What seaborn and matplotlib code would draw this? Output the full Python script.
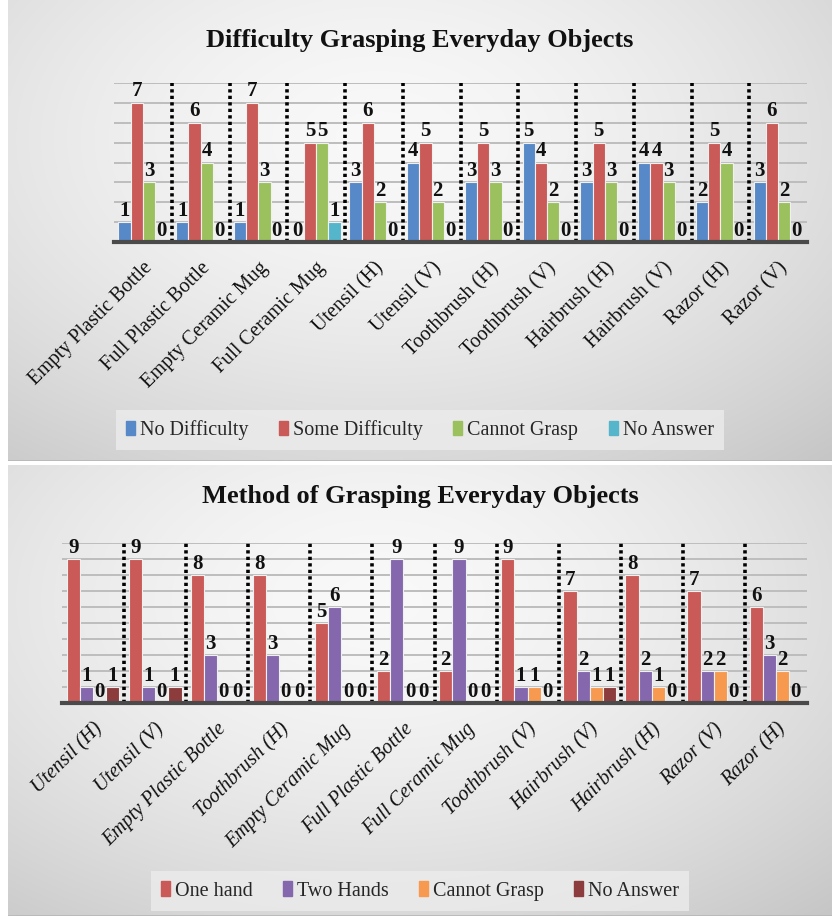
import numpy as np
import pandas as pd
import matplotlib
matplotlib.use("Agg")
import matplotlib.pyplot as plt
import matplotlib.patches as mpatches
import seaborn as sns

# ---------------- data ----------------
top_categories = ["Empty Plastic Bottle", "Full Plastic Bottle", "Empty Ceramic Mug",
                  "Full Ceramic Mug", "Utensil (H)", "Utensil (V)", "Toothbrush (H)",
                  "Toothbrush (V)", "Hairbrush (H)", "Hairbrush (V)", "Razor (H)", "Razor (V)"]
top_series = ["No Difficulty", "Some Difficulty", "Cannot Grasp", "No Answer"]
top_no_difficulty = [1, 1, 1, 0, 3, 4, 3, 5, 3, 4, 2, 3]
top_some_difficulty = [7, 6, 7, 5, 6, 5, 5, 4, 5, 4, 5, 6]
top_cannot_grasp = [3, 4, 3, 5, 2, 2, 3, 2, 3, 3, 4, 2]
top_no_answer = [0, 0, 0, 1, 0, 0, 0, 0, 0, 0, 0, 0]
top_title = "Difficulty Grasping Everyday Objects"

bot_categories = ["Utensil (H)", "Utensil (V)", "Empty Plastic Bottle", "Toothbrush (H)",
                  "Empty Ceramic Mug", "Full Plastic Bottle", "Full Ceramic Mug",
                  "Toothbrush (V)", "Hairbrush (V)", "Hairbrush (H)", "Razor (V)", "Razor (H)"]
bot_series = ["One hand", "Two Hands", "Cannot Grasp", "No Answer"]
bot_one_hand = [9, 9, 8, 8, 5, 2, 2, 9, 7, 8, 7, 6]
bot_two_hands = [1, 1, 3, 3, 6, 9, 9, 1, 2, 2, 2, 3]
bot_cannot_grasp = [0, 0, 0, 0, 0, 0, 0, 1, 1, 1, 2, 2]
bot_no_answer = [1, 1, 0, 0, 0, 0, 0, 0, 1, 0, 0, 0]
bot_title = "Method of Grasping Everyday Objects"

top_colors = ["#5788c8", "#c95a58", "#9bc15e", "#55b6cb"]
bot_colors = ["#c95a58", "#8467ad", "#f79a50", "#8c3c3c"]

# --------------- style ----------------
sns.set_theme(style="white")
plt.rcParams["font.family"] = ["Liberation Serif", "DejaVu Serif"]

W, H = 832, 919
fig = plt.figure(figsize=(W / 100, H / 100), dpi=100)
fig.patch.set_facecolor("white")


def px_rect(x0, y0, x1, y1):
    return [x0 / W, 1 - y1 / H, (x1 - x0) / W, (y1 - y0) / H]


def panel_background(rect, cx=0.45, cy=0.3):
    bg = fig.add_axes(rect, zorder=0)
    ny, nx = 200, 200
    yy, xx = np.mgrid[0:1:ny * 1j, 0:1:nx * 1j]
    r = np.sqrt(((xx - cx) / 0.75) ** 2 + ((yy - cy) / 0.85) ** 2)
    v = 0.975 - 0.17 * np.clip(r, 0, 1.3) ** 1.6
    img = np.dstack([v, v, v])
    bg.imshow(img, aspect="auto", extent=(0, 1, 1, 0), interpolation="bilinear")
    bg.set_xlim(0, 1)
    bg.set_ylim(1, 0)
    bg.axis("off")
    bg.axhline(1.0, color="#b8b8b8", lw=2)
    return bg


def draw_panel(rect, categories, series, values, colors, title, title_y,
               ymax, italic, legend_center):
    df = pd.DataFrame({
        "category": np.repeat(categories, len(series)),
        "series": series * len(categories),
        "value": np.array(values).T.reshape(-1),
    })
    ax = fig.add_axes(rect, zorder=1)
    ax.patch.set_alpha(0)
    sns.barplot(data=df, x="category", y="value", hue="series", order=categories,
                hue_order=series, palette=colors, width=0.85, errorbar=None,
                edgecolor="#f0f0f0", linewidth=0.8, saturation=1, ax=ax, zorder=3)
    ax.set_xlim(-0.5, len(categories) - 0.5)
    ax.set_ylim(0, ymax)
    ax.set_yticks(range(0, ymax + 1))
    ax.yaxis.grid(True, color="#bdbdbd", lw=1.4, zorder=0)
    ax.tick_params(axis="y", left=False, labelleft=False)
    ax.tick_params(axis="x", bottom=False, pad=6)
    for s in ["top", "right", "left"]:
        ax.spines[s].set_visible(False)
    ax.spines["bottom"].set_color("#4a4a4a")
    ax.spines["bottom"].set_linewidth(3)
    ax.spines["bottom"].set_zorder(5)
    ax.set_xlabel("")
    ax.set_ylabel("")
    ax.set_xticks(range(len(categories)))
    ax.set_xticklabels(categories, rotation=45, ha="right", rotation_mode="anchor",
                       fontsize=14.5, style="italic" if italic else "normal",
                       color="#111111")
    for b in np.arange(0.5, len(categories) - 0.5, 1.0):
        ax.axvline(b, ymin=0, ymax=1, color="black", lw=2.6, ls=(0, (0.9, 0.9)), zorder=4)
    for cont in ax.containers:
        ax.bar_label(cont, fmt="%d", padding=1, fontsize=15, fontweight="bold",
                     color="#111111", zorder=6)
    if ax.legend_ is not None:
        ax.legend_.remove()
    handles = [mpatches.Patch(color=c, label=s) for c, s in zip(colors, series)]
    leg = fig.legend(handles=handles, loc="center", bbox_to_anchor=legend_center,
                     ncol=4, frameon=True, fontsize=14.5, handlelength=0.45,
                     handleheight=0.75, handletextpad=0.25, columnspacing=1.5,
                     borderpad=0.5, fancybox=False)
    leg.get_frame().set_facecolor("#ececec")
    leg.get_frame().set_alpha(0.8)
    leg.get_frame().set_edgecolor("none")
    fig.text(legend_center[0], title_y, title, ha="center", va="center",
             fontsize=19, fontweight="bold", color="#111111")
    return ax


# panels
panel_background(px_rect(8, 0, 832, 461))
panel_background(px_rect(8, 465, 832, 916))

draw_panel(px_rect(114, 83, 807, 242), top_categories, top_series,
           [top_no_difficulty, top_some_difficulty, top_cannot_grasp, top_no_answer],
           top_colors, top_title, 1 - 40 / H, 8, False, (420 / W, 1 - 430 / H))

draw_panel(px_rect(62, 543, 807, 703), bot_categories, bot_series,
           [bot_one_hand, bot_two_hands, bot_cannot_grasp, bot_no_answer],
           bot_colors, bot_title, 1 - 497 / H, 10, True, (420 / W, 1 - 891 / H))

fig.savefig("out.png", dpi=100)
